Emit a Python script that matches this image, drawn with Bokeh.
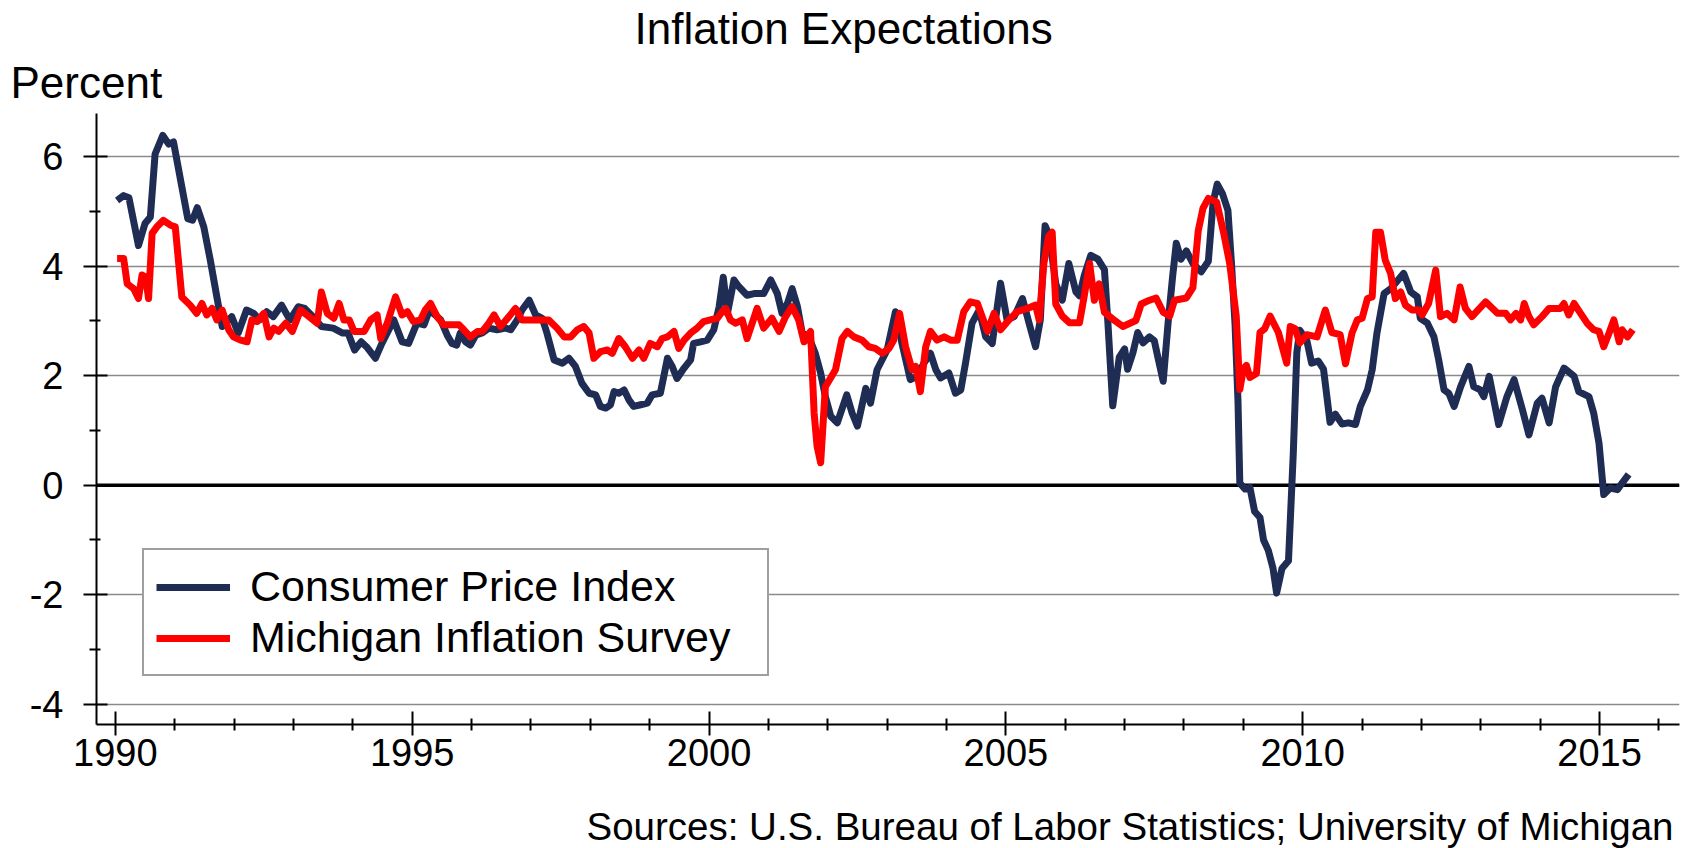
from bokeh.plotting import figure
from bokeh.models import Range1d, FixedTicker, Span, Legend, LegendItem, Title
from bokeh.embed import file_html
from bokeh.resources import INLINE

# ---------------- data ----------------
cpi_year = [
    1990.03, 1990.14, 1990.23, 1990.39, 1990.50, 1990.59, 1990.67, 1990.80, 1990.90, 1990.98,
    1991.10, 1991.22, 1991.30, 1991.38, 1991.49, 1991.60, 1991.71, 1991.80, 1991.96, 1992.07,
    1992.21, 1992.33, 1992.43, 1992.55, 1992.66, 1992.80, 1992.94, 1993.08, 1993.19, 1993.33,
    1993.47, 1993.67, 1993.83, 1993.92, 1994.03, 1994.14, 1994.23, 1994.38, 1994.49, 1994.69,
    1994.83, 1994.94, 1995.08, 1995.20, 1995.28, 1995.36, 1995.48, 1995.59, 1995.67, 1995.75,
    1995.81, 1995.90, 1995.98, 1996.07, 1996.18, 1996.29, 1996.43, 1996.57, 1996.66, 1996.77,
    1996.85, 1996.97, 1997.08, 1997.19, 1997.27, 1997.39, 1997.53, 1997.64, 1997.75, 1997.86,
    1997.98, 1998.09, 1998.17, 1998.26, 1998.34, 1998.40, 1998.48, 1998.57, 1998.65, 1998.73,
    1998.85, 1998.96, 1999.04, 1999.18, 1999.30, 1999.38, 1999.46, 1999.58, 1999.69, 1999.74,
    1999.86, 1999.97, 2000.08, 2000.17, 2000.24, 2000.31, 2000.42, 2000.50, 2000.64, 2000.76,
    2000.92, 2001.04, 2001.15, 2001.23, 2001.32, 2001.40, 2001.49, 2001.57, 2001.68, 2001.79,
    2001.88, 2001.96, 2002.05, 2002.16, 2002.32, 2002.41, 2002.50, 2002.64, 2002.72, 2002.83,
    2003.00, 2003.14, 2003.25, 2003.39, 2003.51, 2003.62, 2003.73, 2003.82, 2003.90, 2004.04,
    2004.15, 2004.24, 2004.32, 2004.43, 2004.55, 2004.66, 2004.77, 2004.91, 2005.02, 2005.14,
    2005.28, 2005.39, 2005.50, 2005.58, 2005.66, 2005.73, 2005.84, 2005.95, 2006.06, 2006.18,
    2006.24, 2006.32, 2006.43, 2006.55, 2006.66, 2006.72, 2006.80, 2006.91, 2007.00, 2007.05,
    2007.14, 2007.22, 2007.31, 2007.42, 2007.50, 2007.56, 2007.65, 2007.73, 2007.81, 2007.87,
    2007.95, 2008.04, 2008.15, 2008.29, 2008.41, 2008.49, 2008.56, 2008.65, 2008.74, 2008.80,
    2008.86, 2008.91, 2008.94, 2009.03, 2009.11, 2009.19, 2009.28, 2009.34, 2009.42, 2009.50,
    2009.56, 2009.65, 2009.76, 2009.84, 2009.90, 2009.95, 2010.07, 2010.15, 2010.26, 2010.35,
    2010.46, 2010.55, 2010.66, 2010.77, 2010.89, 2010.97, 2011.09, 2011.17, 2011.25, 2011.37,
    2011.48, 2011.56, 2011.70, 2011.82, 2011.93, 2011.98, 2012.10, 2012.21, 2012.29, 2012.38,
    2012.46, 2012.55, 2012.66, 2012.80, 2012.88, 2012.99, 2013.05, 2013.14, 2013.30, 2013.44,
    2013.56, 2013.70, 2013.81, 2013.95, 2014.03, 2014.15, 2014.26, 2014.40, 2014.57, 2014.65,
    2014.82, 2014.90, 2014.99, 2015.07, 2015.18, 2015.30, 2015.38, 2015.49,
]
cpi_value = [
    5.20, 5.29, 5.25, 4.38, 4.78, 4.90, 6.05, 6.39, 6.23, 6.27,
    5.57, 4.87, 4.84, 5.07, 4.72, 4.11, 3.44, 2.90, 3.08, 2.78,
    3.20, 3.14, 3.02, 3.17, 3.08, 3.29, 3.02, 3.26, 3.23, 3.08,
    2.90, 2.87, 2.78, 2.78, 2.47, 2.62, 2.53, 2.32, 2.59, 3.02,
    2.62, 2.59, 2.96, 2.93, 3.17, 3.14, 3.02, 2.74, 2.59, 2.56,
    2.78, 2.62, 2.56, 2.74, 2.78, 2.87, 2.84, 2.87, 2.84, 3.02,
    3.20, 3.38, 3.11, 3.05, 2.78, 2.29, 2.23, 2.32, 2.17, 1.86,
    1.68, 1.65, 1.44, 1.41, 1.47, 1.71, 1.68, 1.74, 1.56, 1.44,
    1.47, 1.50, 1.65, 1.68, 2.32, 2.17, 1.95, 2.14, 2.29, 2.59,
    2.62, 2.65, 2.84, 3.26, 3.80, 3.14, 3.75, 3.63, 3.47, 3.50,
    3.50, 3.75, 3.50, 3.14, 3.32, 3.59, 3.26, 2.78, 2.71, 2.41,
    2.05, 1.62, 1.26, 1.14, 1.65, 1.32, 1.08, 1.77, 1.50, 2.11,
    2.47, 3.17, 2.59, 1.93, 1.99, 2.23, 2.41, 2.11, 1.96, 2.05,
    1.68, 1.74, 2.23, 2.96, 3.20, 2.71, 2.59, 3.69, 3.02, 3.08,
    3.41, 2.96, 2.53, 3.02, 4.74, 4.57, 3.68, 3.38, 4.05, 3.53,
    3.46, 3.83, 4.20, 4.13, 3.94, 2.94, 1.45, 2.34, 2.49, 2.12,
    2.42, 2.79, 2.60, 2.71, 2.64, 2.34, 1.90, 2.94, 3.83, 4.42,
    4.13, 4.28, 4.05, 3.90, 4.09, 5.17, 5.50, 5.32, 5.02, 4.05,
    2.94, 1.52, 0.04, -0.07, -0.04, -0.48, -0.59, -1.00, -1.19, -1.52,
    -1.97, -1.52, -1.38, 0.56, 2.42, 2.83, 2.64, 2.23, 2.27, 2.12,
    1.15, 1.30, 1.12, 1.14, 1.11, 1.44, 1.74, 2.11, 2.78, 3.50,
    3.59, 3.69, 3.87, 3.53, 3.44, 3.05, 2.96, 2.71, 2.29, 1.74,
    1.68, 1.44, 1.80, 2.17, 1.80, 1.74, 1.62, 1.99, 1.11, 1.62,
    1.93, 1.38, 0.92, 1.50, 1.59, 1.14, 1.80, 2.14, 1.99, 1.71,
    1.62, 1.32, 0.77, -0.17, -0.05, -0.08, 0.04, 0.20,
]

mich_year = [
    1990.03, 1990.14, 1990.20, 1990.31, 1990.39, 1990.45, 1990.51, 1990.56, 1990.62, 1990.70,
    1990.81, 1990.93, 1991.01, 1991.12, 1991.26, 1991.37, 1991.46, 1991.54, 1991.63, 1991.71,
    1991.80, 1991.91, 1991.99, 1992.11, 1992.22, 1992.30, 1992.39, 1992.50, 1992.59, 1992.67,
    1992.75, 1992.87, 1992.98, 1993.12, 1993.26, 1993.40, 1993.47, 1993.57, 1993.68, 1993.77,
    1993.85, 1993.94, 1994.02, 1994.19, 1994.30, 1994.41, 1994.47, 1994.58, 1994.72, 1994.83,
    1994.92, 1995.02, 1995.14, 1995.22, 1995.31, 1995.42, 1995.53, 1995.67, 1995.79, 1995.87,
    1995.98, 1996.10, 1996.18, 1996.29, 1996.38, 1996.49, 1996.63, 1996.74, 1996.85, 1997.13,
    1997.30, 1997.44, 1997.56, 1997.67, 1997.78, 1997.89, 1997.98, 1998.06, 1998.17, 1998.29,
    1998.37, 1998.48, 1998.59, 1998.71, 1998.82, 1998.90, 1999.01, 1999.13, 1999.21, 1999.30,
    1999.41, 1999.49, 1999.58, 1999.69, 1999.80, 1999.91, 2000.02, 2000.14, 2000.22, 2000.28,
    2000.36, 2000.45, 2000.56, 2000.64, 2000.81, 2000.92, 2001.06, 2001.18, 2001.29, 2001.40,
    2001.51, 2001.60, 2001.71, 2001.77, 2001.82, 2001.88, 2001.96, 2002.13, 2002.24, 2002.33,
    2002.44, 2002.58, 2002.69, 2002.80, 2002.92, 2003.03, 2003.11, 2003.21, 2003.31, 2003.42,
    2003.48, 2003.56, 2003.65, 2003.73, 2003.84, 2003.96, 2004.07, 2004.18, 2004.29, 2004.40,
    2004.52, 2004.69, 2004.80, 2004.91, 2005.05, 2005.19, 2005.36, 2005.50, 2005.56, 2005.64,
    2005.72, 2005.78, 2005.84, 2005.95, 2006.07, 2006.24, 2006.32, 2006.41, 2006.49, 2006.57,
    2006.66, 2006.83, 2006.97, 2007.19, 2007.28, 2007.42, 2007.53, 2007.65, 2007.76, 2007.84,
    2008.04, 2008.15, 2008.24, 2008.32, 2008.41, 2008.55, 2008.66, 2008.77, 2008.88, 2008.94,
    2009.00, 2009.05, 2009.11, 2009.22, 2009.28, 2009.36, 2009.45, 2009.59, 2009.73, 2009.79,
    2009.87, 2009.95, 2010.07, 2010.24, 2010.38, 2010.49, 2010.63, 2010.72, 2010.83, 2010.92,
    2011.00, 2011.09, 2011.17, 2011.23, 2011.31, 2011.39, 2011.48, 2011.56, 2011.65, 2011.73,
    2011.84, 2011.96, 2012.01, 2012.12, 2012.24, 2012.32, 2012.43, 2012.55, 2012.65, 2012.74,
    2012.85, 2013.08, 2013.28, 2013.42, 2013.50, 2013.59, 2013.67, 2013.73, 2013.81, 2013.89,
    2014.03, 2014.15, 2014.34, 2014.40, 2014.48, 2014.57, 2014.68, 2014.79, 2014.90, 2014.99,
    2015.07, 2015.16, 2015.24, 2015.33, 2015.38, 2015.47, 2015.56,
]
mich_value = [
    4.14, 4.14, 3.68, 3.59, 3.41, 3.84, 3.80, 3.41, 4.60, 4.72,
    4.84, 4.75, 4.72, 3.44, 3.29, 3.14, 3.32, 3.11, 3.23, 3.02,
    3.20, 2.84, 2.71, 2.65, 2.62, 3.02, 2.99, 3.14, 2.71, 2.87,
    2.81, 2.96, 2.81, 3.20, 3.08, 2.96, 3.53, 3.14, 3.05, 3.32,
    3.02, 3.02, 2.81, 2.81, 3.02, 3.11, 2.68, 2.96, 3.44, 3.11,
    3.17, 2.99, 3.02, 3.20, 3.32, 3.08, 2.93, 2.93, 2.93, 2.84,
    2.71, 2.81, 2.81, 2.96, 3.11, 2.90, 3.08, 3.23, 3.02, 3.02,
    3.02, 2.87, 2.71, 2.71, 2.84, 2.90, 2.78, 2.32, 2.44, 2.47,
    2.41, 2.68, 2.53, 2.32, 2.47, 2.32, 2.59, 2.53, 2.68, 2.71,
    2.81, 2.50, 2.65, 2.78, 2.87, 2.99, 3.02, 3.05, 3.17, 3.23,
    3.02, 2.96, 3.02, 2.68, 3.23, 2.87, 3.05, 2.81, 3.08, 3.26,
    3.02, 2.62, 2.81, 1.32, 0.71, 0.41, 1.80, 2.11, 2.68, 2.81,
    2.71, 2.65, 2.53, 2.50, 2.41, 2.50, 2.65, 3.14, 2.53, 2.11,
    2.17, 1.71, 2.53, 2.81, 2.65, 2.71, 2.65, 2.65, 3.17, 3.35,
    3.32, 2.81, 3.14, 2.84, 3.02, 3.17, 3.23, 3.29, 3.02, 4.05,
    4.55, 4.62, 3.31, 3.09, 2.97, 2.97, 3.46, 4.05, 3.38, 3.68,
    3.16, 3.01, 2.90, 3.01, 3.31, 3.38, 3.42, 3.16, 3.09, 3.38,
    3.42, 3.61, 4.65, 5.06, 5.24, 5.17, 4.65, 4.05, 3.09, 1.75,
    2.12, 2.19, 1.97, 2.04, 2.79, 2.86, 3.09, 2.79, 2.23, 2.90,
    2.86, 2.60, 2.75, 2.71, 3.20, 2.79, 2.75, 2.22, 2.78, 3.02,
    3.05, 3.41, 3.44, 4.62, 4.62, 4.11, 3.87, 3.41, 3.53, 3.29,
    3.20, 3.20, 3.11, 3.32, 3.93, 3.08, 3.14, 3.02, 3.62, 3.23,
    3.08, 3.35, 3.14, 3.14, 3.02, 3.14, 3.02, 3.32, 3.08, 2.93,
    3.08, 3.23, 3.23, 3.32, 3.11, 3.32, 3.14, 2.96, 2.84, 2.81,
    2.53, 2.78, 3.02, 2.62, 2.84, 2.71, 2.84,
]

series_names = ["Consumer Price Index", "Michigan Inflation Survey"]
x_major_ticks = [1990, 1995, 2000, 2005, 2010, 2015]
x_minor_ticks = [1991, 1992, 1993, 1994, 1996, 1997, 1998, 1999, 2001, 2002, 2003, 2004,
                 2006, 2007, 2008, 2009, 2011, 2012, 2013, 2014, 2016]
y_major_ticks = [-4, -2, 0, 2, 4, 6]
y_minor_ticks = [-3, -1, 1, 3, 5]
y_tick_labels = {-4: "-4", -2: "-2", 0: "0", 2: "2", 4: "4", 6: "6"}
title_text = "Inflation Expectations"
unit_text = "Percent"
source_text = "Sources: U.S. Bureau of Labor Statistics; University of Michigan"

# ---------------- styling ----------------
FONT = "Liberation Sans"
NAVY = "#1F2D55"
RED = "#FF0000"

p = figure(width=1689, height=848, output_backend="svg", toolbar_location=None,
           title_location=None,
           x_range=Range1d(1989.683, 2016.346), y_range=Range1d(-4.37, 6.79),
           min_border_left=96, min_border_right=10, min_border_top=113, min_border_bottom=122)
p.outline_line_color = None
p.background_fill_color = "white"
p.border_fill_color = "white"

# axes
p.xaxis.ticker = FixedTicker(ticks=x_major_ticks, minor_ticks=x_minor_ticks)
p.yaxis.ticker = FixedTicker(ticks=y_major_ticks, minor_ticks=y_minor_ticks)
p.yaxis.major_label_overrides = y_tick_labels
for ax in (p.xaxis[0], p.yaxis[0]):
    ax.axis_line_color = "black"
    ax.axis_line_width = 2
    ax.major_tick_line_color = "black"
    ax.major_tick_line_width = 2
    ax.minor_tick_line_color = "black"
    ax.minor_tick_line_width = 2
    ax.major_label_text_font = FONT
    ax.major_label_text_font_size = "38px"
    ax.major_label_text_color = "black"
p.xaxis.major_tick_in = 13
p.xaxis.major_tick_out = 11
p.xaxis.minor_tick_in = 6
p.xaxis.minor_tick_out = 6
p.xaxis.major_label_standoff = 3
# blank axis label only reserves room between the year labels and the sources line
p.xaxis.axis_label = " "
p.xaxis.axis_label_text_font_size = "10px"
p.xaxis.axis_label_standoff = 19
p.yaxis.major_tick_in = 11
p.yaxis.major_tick_out = 13
p.yaxis.minor_tick_in = 4
p.yaxis.minor_tick_out = 7
p.yaxis.major_label_standoff = 20

# grid
p.xgrid.visible = False
p.ygrid.ticker = FixedTicker(ticks=y_major_ticks)
p.ygrid.grid_line_color = "#8a8a8a"
p.ygrid.grid_line_width = 1.5

# zero line
p.add_layout(Span(location=0, dimension="width", line_color="black",
                  line_width=3.5, level="underlay"))

# series
r_cpi = p.line(cpi_year, cpi_value, line_color=NAVY, line_width=7, line_join="round")
r_mich = p.line(mich_year, mich_value, line_color=RED, line_width=7, line_join="round")

legend = Legend(items=[LegendItem(label=series_names[0], renderers=[r_cpi]),
                       LegendItem(label=series_names[1], renderers=[r_mich])],
                location=(46, 48), padding=12, spacing=2, margin=0,
                glyph_width=74, glyph_height=30, label_standoff=20, label_width=505,
                label_text_font=FONT, label_text_font_size="43px", label_text_color="black",
                border_line_color="#404040", border_line_width=2,
                background_fill_color="white", background_fill_alpha=1.0)
p.add_layout(legend)

# texts: unit label (closest to frame), main title above it, sources below the axis
p.add_layout(Title(text=unit_text, align="left", offset=-86, standoff=14,
                   vertical_align="bottom", text_font=FONT, text_font_size="44px",
                   text_font_style="normal", text_color="black"), "above")
p.add_layout(Title(text=title_text, align="left", offset=538, standoff=-9,
                   vertical_align="bottom", text_font=FONT, text_font_size="44px",
                   text_font_style="normal", text_color="black"), "above")
p.add_layout(Title(text=source_text, align="right", offset=6, standoff=2,
                   vertical_align="bottom", text_font=FONT, text_font_size="38.5px",
                   text_font_style="normal", text_color="black"), "below")

open("out.html", "w").write(file_html(p, INLINE))
